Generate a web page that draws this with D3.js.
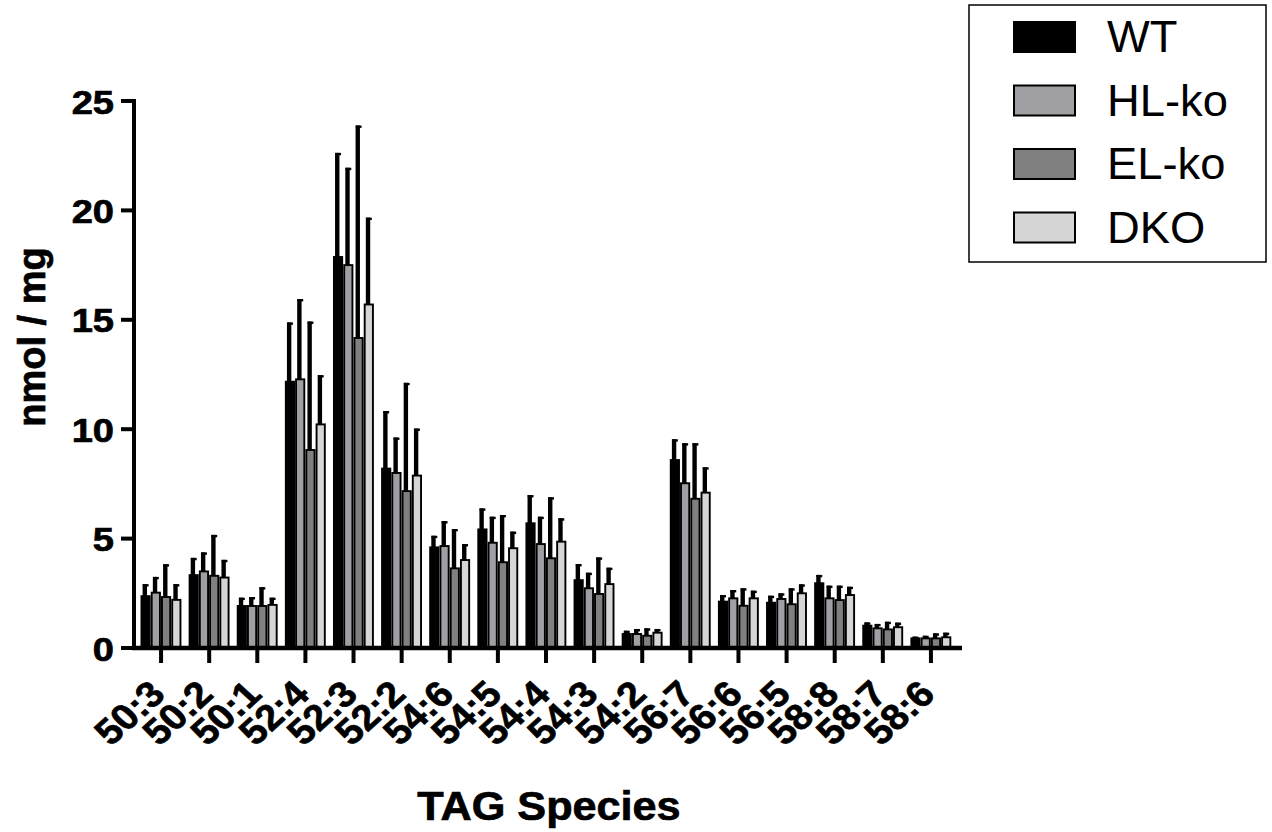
<!DOCTYPE html>
<html>
<head>
<meta charset="utf-8">
<script src="https://cdn.jsdelivr.net/npm/d3@7"></script>
<style>
  body { margin: 0; background: #fff; }
  svg text { font-family: "Liberation Sans", Arial, Helvetica, sans-serif; fill: #000; }
  svg text.heavy { font-weight: bold; stroke: #000; stroke-width: 0.7px; }
</style>
</head>
<body>
<div id="chart"></div>
<script>
// TAG species on the x axis
var categories = ["50:3", "50:2", "50:1", "52:4", "52:3", "52:2", "54:6", "54:5", "54:4",
                  "54:3", "54:2", "56:7", "56:6", "56:5", "58:8", "58:7", "58:6"];
var seriesNames = ["WT", "HL-ko", "EL-ko", "DKO"];
var seriesColors = ["#000000", "#a0a0a4", "#808080", "#d6d6d6"];

// means (nmol / mg)
var meanWT  = [2.37, 3.33, 1.92, 12.17, 17.87, 8.20, 4.60, 5.42, 5.70, 3.10, 0.64, 8.59, 2.12, 2.07, 2.96, 1.02, 0.44];
var meanHL  = [2.53, 3.50, 1.92, 12.28, 17.50, 8.00, 4.66, 4.81, 4.75, 2.73, 0.64, 7.53, 2.27, 2.24, 2.27, 0.90, 0.44];
var meanEL  = [2.33, 3.30, 1.92, 9.05, 14.17, 7.17, 3.64, 3.92, 4.10, 2.47, 0.56, 6.82, 1.93, 2.00, 2.19, 0.85, 0.44];
var meanDKO = [2.20, 3.22, 1.97, 10.22, 15.70, 7.88, 4.02, 4.56, 4.86, 2.92, 0.70, 7.10, 2.27, 2.50, 2.42, 0.95, 0.49];

// upper error bars (SD)
var sdWT  = [0.55, 0.79, 0.38, 2.71, 4.76, 2.63, 0.53, 0.96, 1.29, 0.74, 0.15, 0.95, 0.30, 0.32, 0.38, 0.15, 0.08];
var sdHL  = [0.72, 0.87, 0.41, 3.67, 4.45, 1.62, 1.14, 1.19, 1.25, 0.71, 0.23, 1.83, 0.38, 0.26, 0.58, 0.20, 0.12];
var sdEL  = [1.50, 1.87, 0.86, 5.87, 9.71, 4.95, 1.80, 2.16, 2.79, 1.67, 0.34, 2.54, 0.80, 0.73, 0.66, 0.35, 0.23];
var sdDKO = [0.72, 0.81, 0.33, 2.25, 3.97, 2.15, 0.73, 0.76, 1.07, 0.75, 0.17, 1.16, 0.35, 0.41, 0.38, 0.21, 0.21];

var yTicks = [0, 5, 10, 15, 20, 25];

var means = [meanWT, meanHL, meanEL, meanDKO];
var sds = [sdWT, sdHL, sdEL, sdDKO];

// flatten into rows for the bars
var rows = [];
categories.forEach(function(c, i) {
    seriesNames.forEach(function(s, j) {
        rows.push({cat: c, series: s, idx: j, mean: means[j][i], sd: sds[j][i]});
    });
});

var W = 1272, H = 832;
var svg = d3.select("#chart").append("svg")
    .attr("width", W)
    .attr("height", H);

var axisX0 = 134, axisX1 = 962, baseY = 648;

var x = d3.scaleBand().domain(categories).range([137, 955]).padding(0);
var x1 = d3.scaleBand().domain(seriesNames).range([0, 41]).padding(0);
var y = d3.scaleLinear().domain([0, 25]).range([baseY, 101]);

// bars
var groupOffset = (x.bandwidth() - 41) / 2;
var bars = svg.append("g");
bars.selectAll("rect")
    .data(rows)
    .enter().append("rect")
        .attr("x", d => x(d.cat) + groupOffset + x1(d.series) + 0.9)
        .attr("y", d => y(d.mean))
        .attr("width", x1.bandwidth() - 2)
        .attr("height", d => baseY - y(d.mean))
        .attr("fill", d => seriesColors[d.idx])
        .attr("stroke", "#000")
        .attr("stroke-width", 1.9);

// error bars (upper only)
var errs = svg.append("g");
function errX(d) { return x(d.cat) + groupOffset + x1(d.series) + x1.bandwidth() / 2 - 0.9; }
errs.selectAll("line.err")
    .data(rows)
    .enter().append("line")
        .attr("class", "err")
        .attr("x1", errX)
        .attr("x2", errX)
        .attr("y1", d => y(d.mean))
        .attr("y2", d => y(d.mean + d.sd))
        .attr("stroke", "#000")
        .attr("stroke-width", 4.4);
errs.selectAll("line.cap")
    .data(rows)
    .enter().append("line")
        .attr("class", "cap")
        .attr("x1", d => errX(d) - 2)
        .attr("x2", d => errX(d) + 3.8)
        .attr("y1", d => y(d.mean + d.sd) + 1.2)
        .attr("y2", d => y(d.mean + d.sd) + 1.2)
        .attr("stroke", "#000")
        .attr("stroke-width", 2.4);

// y axis
var yAxis = svg.append("g");
yAxis.append("line")
    .attr("x1", axisX0).attr("x2", axisX0)
    .attr("y1", y(25) - 2).attr("y2", baseY + 2)
    .attr("stroke", "#000").attr("stroke-width", 4);
yAxis.selectAll("line.tick")
    .data(yTicks)
    .enter().append("line")
        .attr("class", "tick")
        .attr("x1", 121).attr("x2", axisX0)
        .attr("y1", d => y(d)).attr("y2", d => y(d))
        .attr("stroke", "#000").attr("stroke-width", 4);
yAxis.selectAll("g.lab")
    .data(yTicks)
    .enter().append("g")
        .attr("class", "lab")
        .attr("transform", d => "translate(114," + (y(d) + 12.5) + ")")
    .append("text")
        .attr("class", "heavy")
        .attr("transform", "scale(1.12,1)")
        .attr("text-anchor", "end")
        .attr("font-size", 34)
        .text(d => d);

// x axis
var xAxis = svg.append("g");
xAxis.append("line")
    .attr("x1", axisX0 - 2).attr("x2", axisX1)
    .attr("y1", baseY).attr("y2", baseY)
    .attr("stroke", "#000").attr("stroke-width", 4.5);
xAxis.selectAll("line.tick")
    .data(categories)
    .enter().append("line")
        .attr("class", "tick")
        .attr("x1", d => x(d) + x.bandwidth() / 2)
        .attr("x2", d => x(d) + x.bandwidth() / 2)
        .attr("y1", baseY).attr("y2", 663)
        .attr("stroke", "#000").attr("stroke-width", 4);
xAxis.selectAll("text")
    .data(categories)
    .enter().append("text")
        .attr("class", "heavy")
        .attr("transform", d => "translate(" + (x(d) + x.bandwidth() / 2 + 6) + ",696) scale(1.1,1) rotate(-45)")
        .attr("text-anchor", "end")
        .attr("font-size", 36)
        .text(d => d);

// axis titles
svg.append("g")
    .attr("transform", "translate(549,820)")
  .append("text")
    .attr("class", "heavy")
    .attr("transform", "scale(1.08,1)")
    .attr("text-anchor", "middle")
    .attr("font-size", 40)
    .text("TAG Species");

svg.append("text")
    .attr("class", "heavy")
    .attr("transform", "translate(45,337) rotate(-90)")
    .attr("text-anchor", "middle")
    .attr("font-size", 38)
    .text("nmol / mg");

// legend
var legend = svg.append("g");
legend.append("rect")
    .attr("x", 969).attr("y", 5)
    .attr("width", 297).attr("height", 257)
    .attr("fill", "none")
    .attr("stroke", "#000").attr("stroke-width", 1.5);
var items = legend.selectAll("g.item")
    .data(seriesNames)
    .enter().append("g")
        .attr("class", "item")
        .attr("transform", (d, i) => "translate(0," + (i * 63.5) + ")");
items.append("rect")
    .attr("x", 1014).attr("y", 22)
    .attr("width", 61).attr("height", 30)
    .attr("fill", (d, i) => seriesColors[i])
    .attr("stroke", "#000").attr("stroke-width", 2);
items.append("g")
    .attr("transform", "translate(1107,52)")
  .append("text")
    .attr("transform", "scale(1.03,1)")
    .attr("font-size", 44)
    .text(d => d);
</script>
</body>
</html>
